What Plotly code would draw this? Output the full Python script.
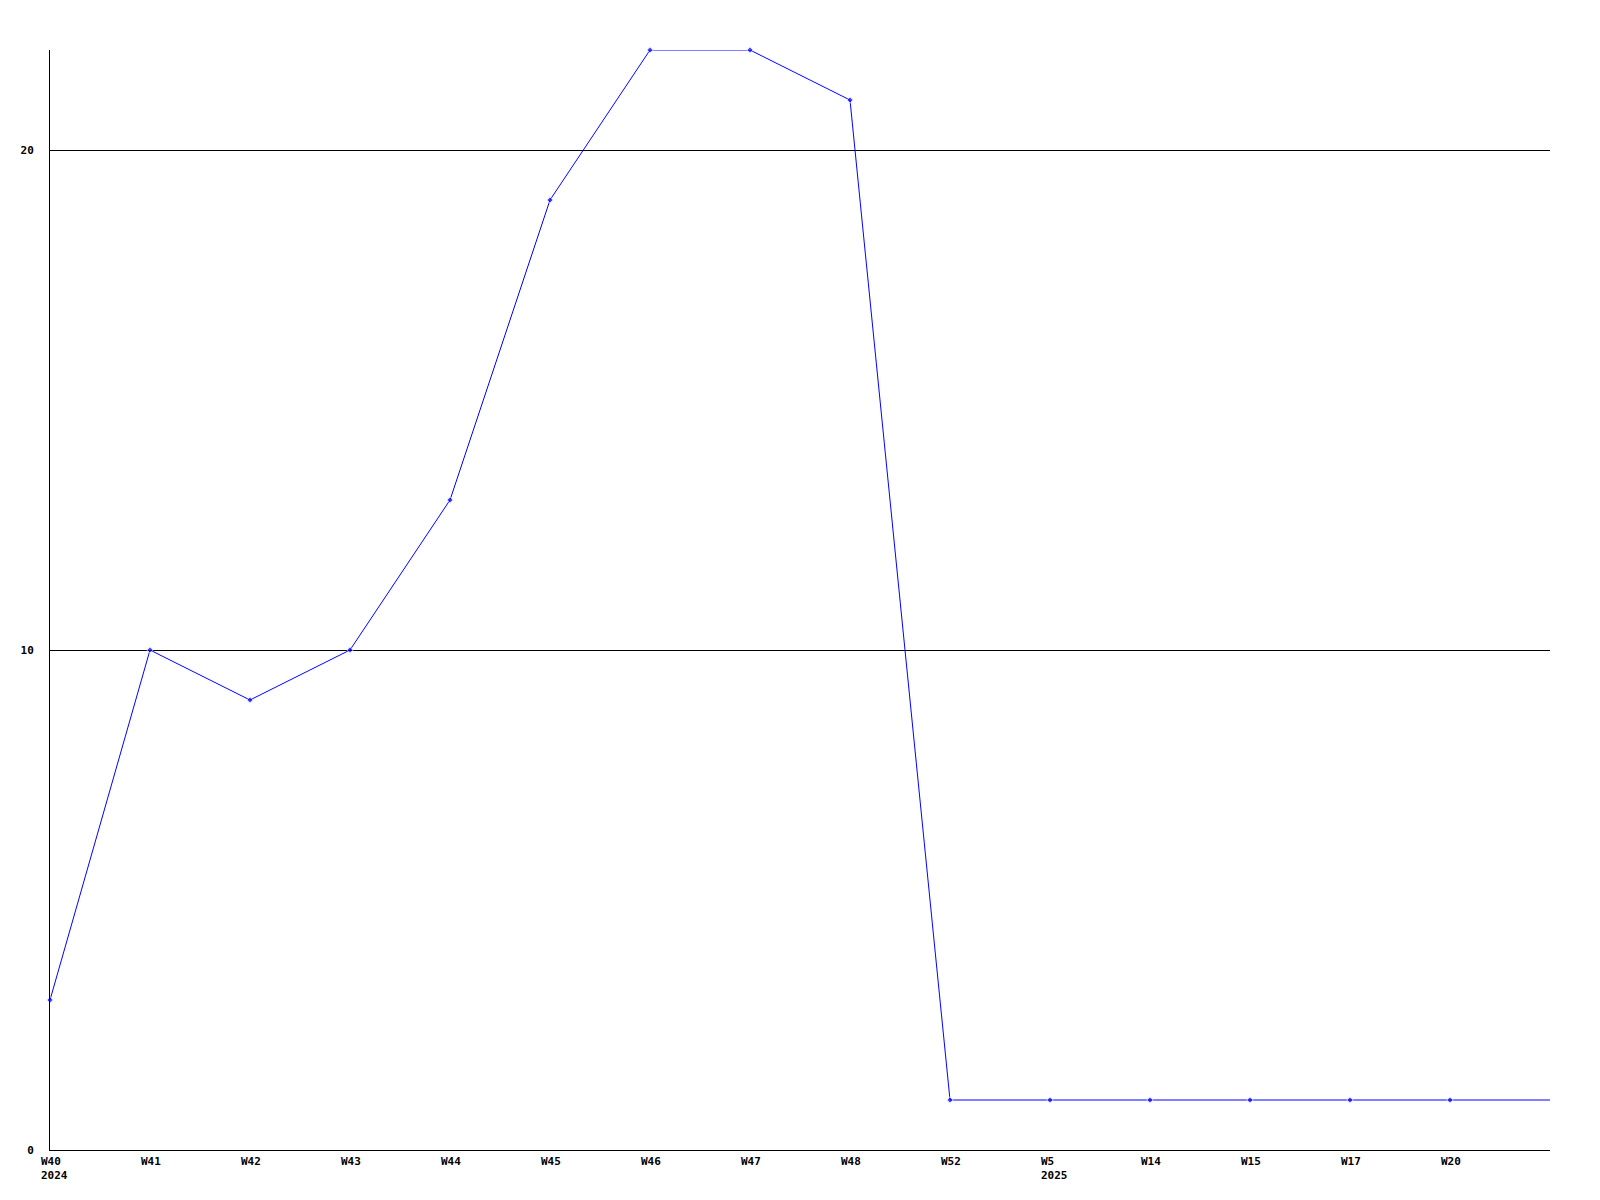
import plotly.graph_objects as go

categories = ["W40", "W41", "W42", "W43", "W44", "W45", "W46", "W47", "W48",
              "W52", "W5", "W14", "W15", "W17", "W20", ""]
year_labels = ["2024", "", "", "", "", "", "", "", "", "", "2025", "", "", "", "", ""]
values = [3, 10, 9, 10, 13, 19, 22, 22, 21, 1, 1, 1, 1, 1, 1, 1]
y_ticks = [0, 10, 20]

xs = list(range(len(categories)))
tick_text = [c + ("<br>" + y if y else "") for c, y in zip(categories, year_labels)]
marker_sizes = [5] * (len(values) - 1) + [0]

fig = go.Figure()
fig.add_trace(go.Scatter(
    x=xs, y=values, mode="lines+markers",
    line=dict(color="#0000FF", width=1),
    marker=dict(color="#0000FF", size=marker_sizes, symbol="diamond"),
    cliponaxis=False, showlegend=False,
))

font = dict(family="DejaVu Sans Mono", size=11, color="black", weight="bold")

for xi, txt in zip(xs, tick_text):
    if not txt:
        continue
    fig.add_annotation(
        x=xi, xref="x", y=0, yref="paper",
        text=txt, showarrow=False,
        xanchor="left", yanchor="top", align="left",
        xshift=-11, yshift=-3, font=font,
    )

fig.update_layout(
    width=1600, height=1200,
    margin=dict(l=42, r=58, t=42, b=58),
    paper_bgcolor="white", plot_bgcolor="white",
    font=font,
    xaxis=dict(
        range=[0, len(categories) - 1],
        tickmode="array", tickvals=xs[:-1], ticktext=tick_text[:-1],
        showticklabels=False,
        showgrid=False, zeroline=False,
        showline=True, linecolor="black", linewidth=1,
        ticks="",
    ),
    yaxis=dict(
        range=[0, 22],
        tickmode="array", tickvals=y_ticks, ticktext=[str(v) for v in y_ticks],
        showgrid=True, gridcolor="black", gridwidth=1,
        zeroline=False,
        showline=True, linecolor="black", linewidth=1,
        ticks="outside", ticklen=13, tickcolor="rgba(0,0,0,0)",
        tickfont=font,
    ),
)

fig.write_html("out.html")
